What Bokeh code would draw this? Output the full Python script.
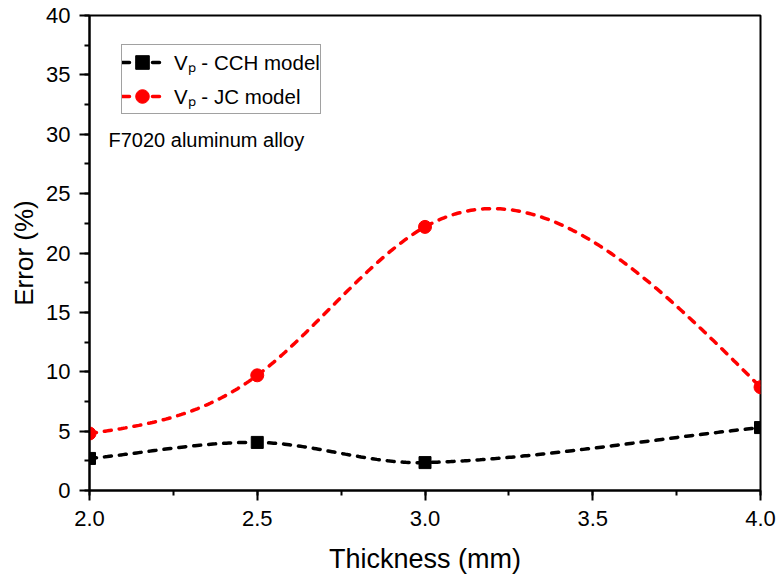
import numpy as np
from bokeh.plotting import figure
from bokeh.models import (Legend, LegendItem, Label, SingleIntervalTicker, Range1d,
                          NumeralTickFormatter)
from bokeh.embed import file_html
from bokeh.resources import INLINE

# ---- data ----
thickness = [2.0, 2.5, 3.0, 4.0]
err_cch = [2.7, 4.05, 2.35, 5.3]
err_jc = [4.8, 9.7, 22.2, 8.7]
label_cch = "V\u209a - CCH model"
label_jc = "V\u209a - JC model"
note = "F7020 aluminum alloy"


def natural_spline(x, y, n=300):
    x = np.asarray(x, float); y = np.asarray(y, float)
    k = len(x); h = np.diff(x)
    A = np.zeros((k, k)); b = np.zeros(k)
    A[0, 0] = 1; A[-1, -1] = 1
    for i in range(1, k - 1):
        A[i, i - 1] = h[i - 1]; A[i, i] = 2 * (h[i - 1] + h[i]); A[i, i + 1] = h[i]
        b[i] = 3 * ((y[i + 1] - y[i]) / h[i] - (y[i] - y[i - 1]) / h[i - 1])
    c = np.linalg.solve(A, b)
    xs = np.linspace(x[0], x[-1], n)
    ys = np.empty_like(xs)
    for j, xv in enumerate(xs):
        i = min(np.searchsorted(x, xv, side="right") - 1, k - 2)
        dx = xv - x[i]
        bi = (y[i + 1] - y[i]) / h[i] - h[i] * (2 * c[i] + c[i + 1]) / 3
        di = (c[i + 1] - c[i]) / (3 * h[i])
        ys[j] = y[i] + bi * dx + c[i] * dx ** 2 + di * dx ** 3
    return xs, ys


def cardinal_spline(x, y, n=300):
    # Hermite curve with finite-difference (Catmull-Rom style) tangents
    x = np.asarray(x, float); y = np.asarray(y, float)
    k = len(x)
    t = np.empty(k)
    t[0] = (y[1] - y[0]) / (x[1] - x[0])
    t[-1] = (y[-1] - y[-2]) / (x[-1] - x[-2])
    for i in range(1, k - 1):
        t[i] = (y[i + 1] - y[i - 1]) / (x[i + 1] - x[i - 1])
    xs = np.linspace(x[0], x[-1], n)
    ys = np.empty_like(xs)
    for j, xv in enumerate(xs):
        i = min(np.searchsorted(x, xv, side="right") - 1, k - 2)
        h = x[i + 1] - x[i]
        u = (xv - x[i]) / h
        h00 = 2 * u**3 - 3 * u**2 + 1
        h10 = u**3 - 2 * u**2 + u
        h01 = -2 * u**3 + 3 * u**2
        h11 = u**3 - u**2
        ys[j] = h00 * y[i] + h10 * h * t[i] + h01 * y[i + 1] + h11 * h * t[i + 1]
    return xs, ys


FONT = "Liberation Sans"

p = figure(frame_width=671, frame_height=475, output_backend="svg", toolbar_location=None,
           x_range=Range1d(2.0, 4.0), y_range=Range1d(0, 40),
           min_border_left=89, min_border_right=17, min_border_top=15, min_border_bottom=91)
p.xgrid.visible = False
p.ygrid.visible = False
p.outline_line_color = "black"
p.outline_line_width = 2
p.outline_line_alpha = 1
p.background_fill_color = "white"
p.border_fill_color = "white"

p.xaxis.ticker = SingleIntervalTicker(interval=0.5, num_minor_ticks=2)
p.yaxis.ticker = SingleIntervalTicker(interval=5, num_minor_ticks=2)
p.xaxis.formatter = NumeralTickFormatter(format="0.0")
for ax in (p.xaxis[0], p.yaxis[0]):
    ax.axis_line_width = 2
    ax.major_tick_line_width = 2
    ax.minor_tick_line_width = 2
    ax.major_tick_out = 10
    ax.major_tick_in = 0
    ax.minor_tick_out = 5
    ax.minor_tick_in = 0
    ax.major_label_text_font = FONT
    ax.major_label_text_font_size = "22px"
    ax.major_label_text_color = "black"
    ax.axis_label_text_font = FONT
    ax.axis_label_text_font_style = "normal"
    ax.axis_label_text_color = "black"
p.xaxis.axis_label = "Thickness (mm)"
p.yaxis.axis_label = "Error (%)"
p.xaxis.axis_label_text_font_size = "27px"
p.yaxis.axis_label_text_font_size = "26px"
p.xaxis.major_label_standoff = 10
p.yaxis.major_label_standoff = 9
p.xaxis.axis_label_standoff = 15
p.yaxis.axis_label_standoff = 4

xs1, ys1 = cardinal_spline(thickness, err_cch)
xs2, ys2 = natural_spline(thickness, err_jc)

l1 = p.line(xs1, ys1, line_color="black", line_width=3.5, line_dash="7 8", line_cap="round")
m1 = p.scatter(thickness, err_cch, marker="square", size=12, fill_color="black", line_color="black")
l2 = p.line(xs2, ys2, line_color="#ff0000", line_width=3.5, line_dash="7 8", line_cap="round")
m2 = p.scatter(thickness, err_jc, marker="circle", size=13, fill_color="#ff0000", line_color="#ff0000")

legend = Legend(items=[LegendItem(label=label_cch, renderers=[l1, m1]),
                       LegendItem(label=label_jc, renderers=[l2, m2])],
                location=(32, 376), padding=0, spacing=0, margin=0,
                label_height=34, glyph_height=34, glyph_width=40, label_standoff=12,
                label_text_font=FONT, label_text_font_size="20.5px", label_text_color="black",
                border_line_color="#444444", border_line_width=1,
                background_fill_alpha=1)
p.add_layout(legend)

p.add_layout(Label(x=19, y=351, x_units="screen", y_units="screen", text=note,
                   text_font=FONT, text_font_size="20px", text_color="black",
                   text_baseline="alphabetic"))

open("out.html", "w").write(file_html(p, INLINE))
